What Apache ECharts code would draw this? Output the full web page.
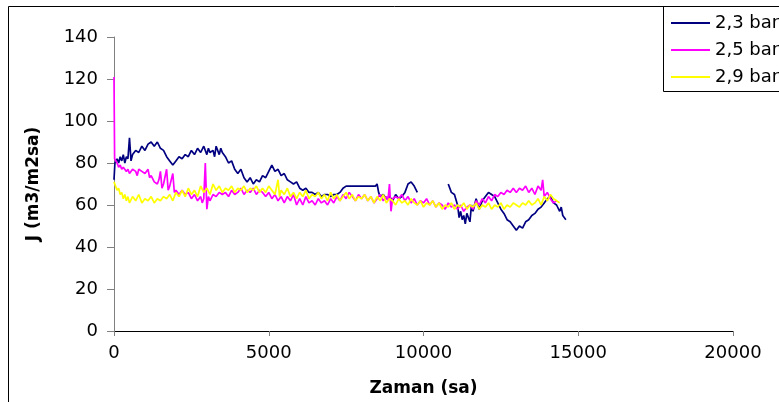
<!DOCTYPE html>
<html>
<head>
<meta charset="utf-8">
<script src="https://cdn.jsdelivr.net/npm/echarts@6/dist/echarts.min.js"></script>
<style>
  html, body { margin: 0; padding: 0; background: #fff; }
  #chart { width: 779px; height: 402px; }
</style>
</head>
<body>
<div id="chart"></div>
<script>
// Permeate flux J (m3/m2sa) over time (sa) at three pressures
const seriesNames = ['2,3 bar', '2,5 bar', '2,9 bar'];
const xTicks = { min: 0, max: 20000, step: 5000 };
const yTicks = { min: 0, max: 140, step: 20 };

// [time, flux]; '-' marks a break in logging
const flux23 = [
  [0,72],[30,80],[100,82],[150,80],[200,83],[250,81],[300,84],[350,80],[400,83],[450,82],
  [500,92],[550,81],[600,84],[700,86],[800,85],[900,88],[1000,86],[1100,89],[1200,90],[1300,88],
  [1400,90],[1500,87],[1600,86],[1700,83],[1800,81],[1900,79],[2000,81],[2100,83],[2200,82],[2300,84],
  [2400,83],[2500,86],[2600,84],[2700,87],[2800,85],[2900,88],[3000,84],[3050,87],[3100,85],[3200,86],
  [3250,83],[3300,88],[3400,84],[3450,87],[3500,85],[3600,83],[3700,80],[3800,81],[3900,77],[4000,75],
  [4100,77],[4200,73],[4300,71],[4400,73],[4500,70],[4600,72],[4700,71],[4800,74],[4900,73],[5000,76],
  [5100,79],[5200,76],[5300,77],[5400,74],[5500,75],[5600,72],[5700,71],[5800,70],[5900,71],[6000,68],
  [6100,67],[6200,68],[6300,66],[6400,66],[6500,65],[6600,66],[6700,64],[6800,65],[6900,65],[7000,64],
  [7100,65],[7200,65],[7300,66],[7400,68],[7500,69],[8450,69],[8500,70],[8550,66],[8600,64],[8700,65],
  [8800,63],[8900,64],[9000,62],[9100,65],[9200,63],[9300,64],[9400,66],[9500,70],[9600,71],[9700,69],
  [9800,66],[9900,'-'],
  [10800,70],[10900,66],[11000,65],[11100,60],[11150,54],[11200,57],[11250,53],[11300,55],[11350,51],[11400,56],
  [11500,52],[11550,60],[11600,57],[11700,63],[11800,58],[11900,62],[12000,64],[12100,66],[12200,65],[12300,64],
  [12400,61],[12500,58],[12600,56],[12700,53],[12800,52],[12900,50],[13000,48],[13100,50],[13200,49],[13300,52],
  [13400,53],[13500,55],[13600,56],[13700,58],[13800,59],[13900,61],[14000,63],[14100,64],[14200,61],[14300,60],
  [14400,57],[14450,59],[14500,55],[14600,53]
];

const flux25 = [
  [0,121],[20,82],[100,80],[150,78],[200,79],[250,77],[300,78],[400,76],[450,77],[500,75],
  [600,77],[700,76],[750,74],[800,77],[900,76],[1000,75],[1100,77],[1150,73],[1200,74],[1300,71],
  [1400,70],[1450,72],[1500,76],[1550,68],[1600,70],[1700,77],[1750,67],[1800,69],[1900,75],[1950,66],
  [2000,67],[2100,65],[2200,67],[2300,65],[2400,66],[2500,63],[2600,65],[2700,62],[2800,64],[2850,61],
  [2900,63],[2950,80],[3000,58],[3050,64],[3100,62],[3200,65],[3300,64],[3400,66],[3500,65],[3600,66],
  [3700,64],[3800,67],[3900,65],[4000,66],[4100,68],[4200,65],[4300,67],[4400,66],[4500,68],[4600,65],
  [4700,67],[4800,66],[4900,64],[5000,66],[5100,63],[5200,65],[5300,62],[5400,64],[5500,61],[5600,64],
  [5700,62],[5800,65],[5900,60],[6000,63],[6100,60],[6200,64],[6300,61],[6400,62],[6500,60],[6600,63],
  [6700,61],[6800,62],[6900,60],[7000,63],[7100,61],[7200,64],[7300,62],[7400,65],[7500,63],[7600,66],
  [7700,64],[7800,62],[7900,65],[8000,63],[8100,65],[8200,62],[8300,64],[8400,61],[8500,63],[8600,65],
  [8700,62],[8800,64],[8850,62],[8900,70],[8950,57],[9000,63],[9100,64],[9200,63],[9300,65],[9400,62],
  [9500,64],[9600,61],[9700,63],[9800,60],[9900,62],[10000,61],[10100,63],[10200,60],[10300,62],[10400,59],
  [10500,61],[10600,60],[10700,58],[10800,61],[10900,59],[11000,60],[11100,58],[11200,60],[11300,57],[11400,59],
  [11500,60],[11600,58],[11700,62],[11800,60],[11900,63],[12000,61],[12100,64],[12200,62],[12300,65],[12400,64],
  [12500,66],[12600,65],[12700,67],[12800,66],[12900,68],[13000,66],[13100,68],[13200,67],[13300,69],[13400,66],
  [13500,68],[13600,65],[13700,69],[13800,67],[13850,72],[13900,64],[14000,66],[14100,63],[14200,61],[14300,62]
];

const flux29 = [
  [0,71],[50,69],[100,67],[150,68],[200,65],[250,66],[300,63],[350,65],[400,62],[450,64],
  [500,61],[600,64],[700,62],[800,65],[900,61],[1000,63],[1100,62],[1200,64],[1300,61],[1400,63],
  [1500,62],[1600,64],[1700,63],[1800,65],[1900,62],[2000,66],[2100,64],[2200,67],[2300,64],[2400,68],
  [2500,65],[2600,67],[2700,64],[2800,69],[2900,66],[3000,68],[3100,65],[3200,70],[3300,67],[3400,69],
  [3500,66],[3600,68],[3700,67],[3800,69],[3900,66],[4000,68],[4100,67],[4200,69],[4300,66],[4400,68],
  [4500,67],[4600,69],[4700,66],[4800,68],[4900,66],[5000,69],[5100,67],[5200,65],[5300,72],[5350,64],
  [5400,67],[5500,65],[5600,68],[5700,64],[5800,66],[5900,63],[6000,66],[6100,64],[6200,67],[6300,63],
  [6400,65],[6500,64],[6600,66],[6700,63],[6800,65],[6900,62],[7000,66],[7100,63],[7200,65],[7300,62],
  [7400,64],[7500,66],[7600,63],[7700,65],[7800,62],[7900,64],[8000,63],[8100,65],[8200,62],[8300,64],
  [8400,61],[8500,64],[8600,62],[8700,65],[8800,61],[8900,63],[9000,62],[9100,60],[9200,63],[9300,61],
  [9400,62],[9500,60],[9600,63],[9700,61],[9800,60],[9900,62],[10000,59],[10100,61],[10200,60],[10300,62],
  [10400,59],[10500,61],[10600,58],[10700,60],[10800,59],[10900,61],[11000,58],[11100,60],[11200,59],[11300,61],
  [11400,58],[11500,60],[11600,59],[11700,61],[11800,58],[11900,60],[12000,59],[12100,61],[12200,58],[12300,60],
  [12400,59],[12500,61],[12600,58],[12700,60],[12800,59],[12900,61],[13000,60],[13100,59],[13200,61],[13300,60],
  [13400,62],[13500,60],[13600,61],[13700,63],[13800,60],[13900,64],[14000,62],[14100,65],[14200,63],[14300,62],
  [14400,61]
];

const lineColors = ['#000080', '#FF00FF', '#FFFF00'];
const FONT = '"DejaVu Sans", "Liberation Sans", Arial, sans-serif';

const chart = echarts.init(document.getElementById('chart'), null, { renderer: 'canvas' });

const lineSeries = [flux23, flux25, flux29].map((data, i) => ({
  name: seriesNames[i],
  type: 'line',
  data: data,
  showSymbol: false,
  symbol: 'none',
  connectNulls: false,
  animation: false,
  lineStyle: { color: lineColors[i], width: 1.7 },
  itemStyle: { color: lineColors[i] },
  z: 2 + i
}));

chart.setOption({
  animation: false,
  backgroundColor: '#fff',
  textStyle: { fontFamily: FONT },
  grid: { left: 114, right: 46, top: 37, bottom: 71, containLabel: false },
  xAxis: {
    type: 'value',
    min: xTicks.min, max: xTicks.max, interval: xTicks.step,
    name: 'Zaman (sa)',
    nameLocation: 'middle',
    nameGap: 49,
    nameTextStyle: { fontFamily: FONT, fontSize: 17, fontWeight: 'bold', color: '#000' },
    axisLine: { show: true, lineStyle: { color: '#000', width: 1 } },
    axisTick: { show: true, length: 5, lineStyle: { color: '#808080' } },
    axisLabel: { fontFamily: FONT, fontSize: 18, color: '#000', margin: 13, formatter: v => String(v) },
    splitLine: { show: false }
  },
  yAxis: {
    type: 'value',
    min: yTicks.min, max: yTicks.max, interval: yTicks.step,
    name: 'J (m3/m2sa)',
    nameLocation: 'middle',
    nameGap: 72,
    nameRotate: 90,
    nameTextStyle: { fontFamily: FONT, fontSize: 17, fontWeight: 'bold', color: '#000' },
    axisLine: { show: true, lineStyle: { color: '#808080', width: 1 } },
    axisTick: { show: true, length: 7, lineStyle: { color: '#808080' } },
    axisLabel: { fontFamily: FONT, fontSize: 18, color: '#000', margin: 16, formatter: v => String(v) },
    splitLine: { show: false }
  },
  legend: {
    orient: 'vertical',
    left: 666,
    top: 9,
    itemWidth: 39,
    itemHeight: 2,
    itemGap: 9,
    icon: 'rect',
    selectedMode: false,
    data: seriesNames,
    textStyle: { fontFamily: FONT, fontSize: 18, lineHeight: 18, color: '#000', padding: [0, 0, 0, 0] }
  },
  graphic: [
    {
      type: 'rect',
      shape: { x: 8.5, y: 6.5, width: 820, height: 440 },
      style: { fill: 'none', stroke: '#000', lineWidth: 1 },
      silent: true, z: 0
    },
    {
      type: 'rect',
      shape: { x: 663.5, y: 6.5, width: 200, height: 85 },
      style: { fill: 'none', stroke: '#000', lineWidth: 1 },
      silent: true, z: 0
    }
  ],
  series: lineSeries
});
</script>
</body>
</html>
